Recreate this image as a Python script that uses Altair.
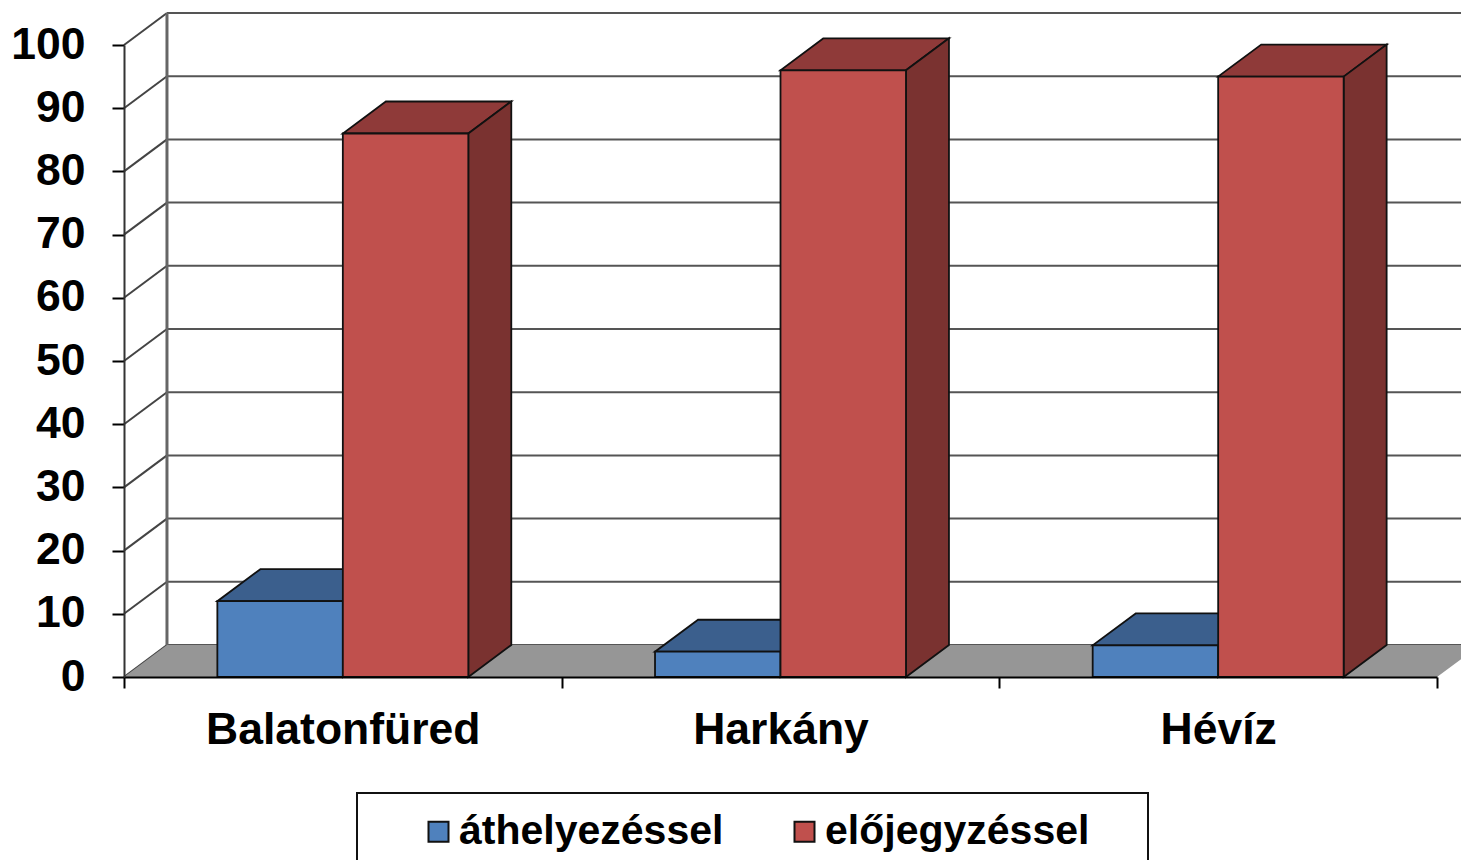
import altair as alt
import pandas as pd

categories = ["Balatonfüred", "Harkány", "Hévíz"]
series = ["áthelyezéssel", "előjegyzéssel"]
athelyezessel = [12, 4, 5]
elojegyzessel = [86, 96, 95]
y_ticks = [0, 10, 20, 30, 40, 50, 60, 70, 80, 90, 100]
x_ticks = [0, 1, 2, 3]

front_colors = ["#4F81BD", "#C0504D"]
top_colors = ["#3B5F8D", "#8F3A39"]
side_colors = ["#2F4C70", "#7A3230"]

FONT = "Liberation Sans"
DX = 0.0982      # depth offset in category units
DV = 5.06        # depth offset in value units
BAR = 0.2867     # bar width in category units
EDGE = 1.8

xs = alt.Scale(domain=[0, 3], nice=False, zero=False)
ys = alt.Scale(domain=[0, 100], nice=False, zero=False)

label_ticks = [0.5, 1.5, 2.5]
label_expr = " : ".join(
    f"datum.value === {v} ? '{c}'" for v, c in zip(label_ticks, categories)
) + " : ''"

x_axis = alt.Axis(
    values=x_ticks + label_ticks, labelExpr=label_expr, title=None, grid=False,
    tickSize=11, tickWidth=2, tickColor="#000000",
    tickOpacity={"condition": {"test": "datum.value % 1 === 0", "value": 1}, "value": 0},
    domainColor="#000000", domainWidth=2,
    labelFont=FONT, labelFontWeight="bold", labelFontSize=44.5, labelColor="#000000",
    labelPadding=20, labelLimit=600, labelOverlap=False, labelFlush=False, zindex=1,
)
y_axis = alt.Axis(
    values=y_ticks, title=None, grid=False, tickSize=12, tickWidth=2, tickColor="#000000",
    domainColor="#333333", domainWidth=2,
    labelFont=FONT, labelFontWeight="bold", labelFontSize=44.5, labelColor="#000000",
    labelPadding=27, labelLimit=300, labelOverlap=False, labelFlush=False, zindex=1,
)

# walls -------------------------------------------------------------------
wall_df = pd.DataFrame({"v": y_ticks})
wall_df["x0"] = 0.0
wall_df["x1"] = DX
wall_df["x2"] = 3 + 2 * DX
wall_df["vb"] = wall_df["v"] + DV

back_grid = alt.Chart(wall_df).mark_rule(color="#555555", strokeWidth=2, clip=False).encode(
    x=alt.X("x1:Q", scale=xs, axis=x_axis), x2="x2:Q",
    y=alt.Y("vb:Q", scale=ys, axis=y_axis),
)
diagonals = alt.Chart(wall_df).mark_rule(color="#444444", strokeWidth=2).encode(
    x=alt.X("x0:Q", scale=xs), x2="x1:Q",
    y=alt.Y("v:Q", scale=ys), y2="vb:Q",
)
back_edge = alt.Chart(pd.DataFrame({"x": [DX], "a": [DV], "b": [100 + DV]})).mark_rule(
    color="#666666", strokeWidth=3
).encode(x=alt.X("x:Q", scale=xs), y=alt.Y("a:Q", scale=ys), y2="b:Q")

floor_df = pd.DataFrame({"v": [0, DV], "l": [0, DX], "r": [3, 3 + DX]})
floor = alt.Chart(floor_df).mark_area(orient="horizontal", color="#969696").encode(
    y=alt.Y("v:Q", scale=ys, stack=None), x=alt.X("l:Q", scale=xs), x2="r:Q",
)

# bars --------------------------------------------------------------------
def bar_layers(values, idx):
    rows_f, rows_t, rows_s = [], [], []
    for i, v in enumerate(values):
        c = i + 0.5
        l = c - BAR if idx == 0 else c
        r = l + BAR
        rows_f.append({"s": series[idx], "l": l, "r": r, "v": v})
        rows_t += [{"g": i, "y": v, "l": l, "r": r},
                   {"g": i, "y": v + DV, "l": l + DX, "r": r + DX}]
        rows_s += [{"g": i, "x": r, "a": 0, "b": v},
                   {"g": i, "x": r + DX, "a": DV, "b": v + DV}]
    top = alt.Chart(pd.DataFrame(rows_t)).mark_area(
        orient="horizontal", color=top_colors[idx], stroke="#111111", strokeWidth=EDGE
    ).encode(y=alt.Y("y:Q", scale=ys, stack=None), x=alt.X("l:Q", scale=xs), x2="r:Q", detail="g:N")
    side = alt.Chart(pd.DataFrame(rows_s)).mark_area(
        color=side_colors[idx], stroke="#111111", strokeWidth=EDGE
    ).encode(x=alt.X("x:Q", scale=xs), y=alt.Y("a:Q", scale=ys, stack=None), y2="b:Q", detail="g:N")
    front = alt.Chart(pd.DataFrame(rows_f)).mark_rect(stroke="#111111", strokeWidth=EDGE).encode(
        x=alt.X("l:Q", scale=xs), x2="r:Q",
        y=alt.Y("v:Q", scale=ys), y2=alt.datum(0),
        color=alt.Color(
            "s:N",
            scale=alt.Scale(domain=series, range=front_colors),
            legend=alt.Legend(
                title=None, orient="none", legendX=294, legendY=766, direction="horizontal",
                columns=2, columnPadding=60, symbolType="square", symbolSize=400,
                symbolStrokeColor="#111111", symbolStrokeWidth=2, symbolOpacity=1,
                labelFont=FONT, labelFontWeight="bold", labelFontSize=41, labelColor="#000000",
                labelLimit=500, labelOffset=0, padding=0,
            ),
        ),
    )
    return [top, side, front]

legend_box = alt.Chart(pd.DataFrame({"k": [0]})).mark_rect(
    fill="#FFFFFF", stroke="#111111", strokeWidth=2, clip=False
).encode(x=alt.value(233), x2=alt.value(1024), y=alt.value(748), y2=alt.value(840))

layers = [back_grid, diagonals, back_edge, floor] \
    + bar_layers(athelyezessel, 0) + bar_layers(elojegyzessel, 1) + [legend_box]

chart = alt.layer(*layers).properties(
    width=1313, height=632,
    autosize=alt.AutoSizeParams(type="none"),
    padding={"left": 116, "top": 37, "right": 24, "bottom": 183},
    background="#FFFFFF",
).configure_view(stroke=None)

chart.save("out.html", embed_options={"renderer": "svg", "actions": False})
